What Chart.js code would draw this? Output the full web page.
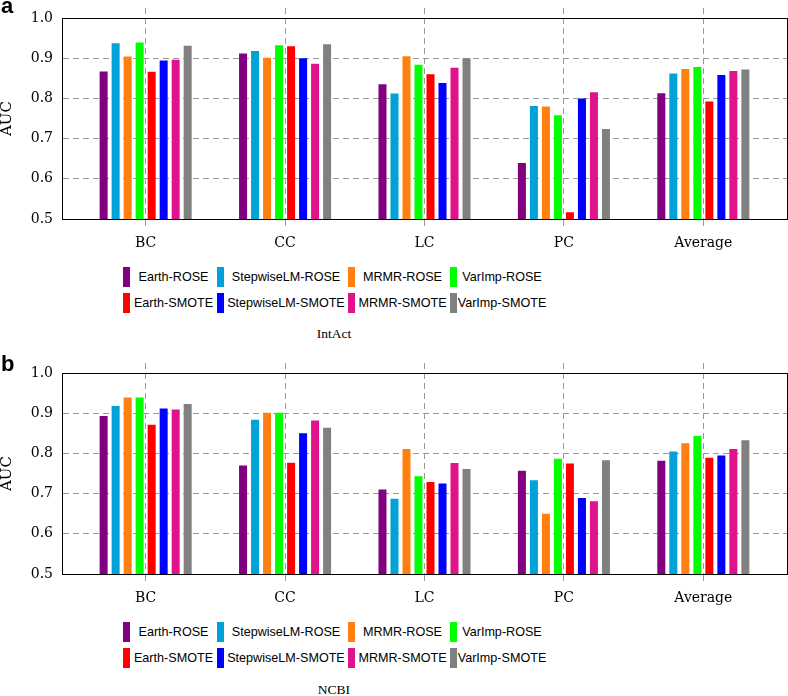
<!DOCTYPE html>
<html>
<head>
<meta charset="utf-8">
<script src="https://cdn.jsdelivr.net/npm/chart.js@4.4.1/dist/chart.umd.min.js"></script>
<style>
  body { margin: 0; background: #fff; }
  #wrap { position: relative; width: 788px; height: 696px; overflow: hidden; }
  canvas.panel { position: absolute; left: 0; }
  .tag { position: absolute; left: 1px; font: bold 22px/22px 'Liberation Sans', Arial, sans-serif; color: #000; }
  .legend { position: absolute; left: 123px; font: 12.6px 'Liberation Sans', Arial, sans-serif; color: #000; }
  .legend .row { display: flex; height: 26px; align-items: center; }
  .legend .cell { display: flex; align-items: center; }
  .legend .box { width: 7px; height: 20px; flex: none; }
  .legend .txt { flex: 1; text-align: center; white-space: nowrap; }
  .caption { position: absolute; left: 234px; width: 200px; text-align: center; font: 13.5px/16px 'Liberation Serif', 'Times New Roman', serif; color: #000; }
</style>
</head>
<body>
<div id="wrap">
  <canvas id="chartA" class="panel" width="788" height="254" style="top:0px"></canvas>
  <div class="tag" style="top:-5px">a</div>
  <div id="legendA" class="legend" style="top:264px"></div>
  <div class="caption" style="top:326px">IntAct</div>

  <canvas id="chartB" class="panel" width="788" height="254" style="top:355px"></canvas>
  <div class="tag" style="top:353px">b</div>
  <div id="legendB" class="legend" style="top:619px"></div>
  <div class="caption" style="top:682px">NCBI</div>
</div>
<script>
const categories = ['BC', 'CC', 'LC', 'PC', 'Average'];
const methods = ['Earth-ROSE', 'StepwiseLM-ROSE', 'MRMR-ROSE', 'VarImp-ROSE',
                 'Earth-SMOTE', 'StepwiseLM-SMOTE', 'MRMR-SMOTE', 'VarImp-SMOTE'];
const colors = ['#800080', '#00a2d8', '#ff8010', '#00ff00', '#ff0000', '#0000ff', '#e0128c', '#808080'];
const yTicks = [0.5, 0.6, 0.7, 0.8, 0.9, 1.0];

// IntAct (panel a), one array per method, values for BC, CC, LC, PC, Average
const intactEarthROSE      = [0.867, 0.912, 0.835, 0.639, 0.813];
const intactStepwiseROSE   = [0.937, 0.918, 0.812, 0.781, 0.862];
const intactMRMRROSE       = [0.904, 0.901, 0.905, 0.780, 0.873];
const intactVarImpROSE     = [0.939, 0.932, 0.884, 0.758, 0.878];
const intactEarthSMOTE     = [0.866, 0.930, 0.860, 0.517, 0.792];
const intactStepwiseSMOTE  = [0.894, 0.900, 0.838, 0.800, 0.858];
const intactMRMRSMOTE      = [0.896, 0.886, 0.876, 0.815, 0.868];
const intactVarImpSMOTE    = [0.931, 0.935, 0.900, 0.724, 0.872];

// NCBI (panel b)
const ncbiEarthROSE        = [0.893, 0.770, 0.710, 0.757, 0.782];
const ncbiStepwiseROSE     = [0.918, 0.884, 0.687, 0.733, 0.805];
const ncbiMRMRROSE         = [0.939, 0.901, 0.811, 0.650, 0.825];
const ncbiVarImpROSE       = [0.939, 0.901, 0.743, 0.787, 0.843];
const ncbiEarthSMOTE       = [0.871, 0.777, 0.729, 0.775, 0.789];
const ncbiStepwiseSMOTE    = [0.912, 0.850, 0.725, 0.689, 0.795];
const ncbiMRMRSMOTE        = [0.909, 0.882, 0.776, 0.681, 0.811];
const ncbiVarImpSMOTE      = [0.923, 0.864, 0.761, 0.783, 0.833];

const intactSeries = [intactEarthROSE, intactStepwiseROSE, intactMRMRROSE, intactVarImpROSE,
                      intactEarthSMOTE, intactStepwiseSMOTE, intactMRMRSMOTE, intactVarImpSMOTE];
const ncbiSeries = [ncbiEarthROSE, ncbiStepwiseROSE, ncbiMRMRROSE, ncbiVarImpROSE,
                    ncbiEarthSMOTE, ncbiStepwiseSMOTE, ncbiMRMRSMOTE, ncbiVarImpSMOTE];

const gridGray = '#9a9a9a';
const dash = [6, 4];
const tickFont = { family: "'DejaVu Serif', serif", size: 14 };

// categories sit on a linear axis so the outer margins match the original
function catTicks(scale) {
  scale.ticks = categories.map((c, i) => ({ value: i }));
}

function makeDatasets(series) {
  return series.map((vals, k) => ({
    label: methods[k],
    data: vals.map((v, i) => ({ x: i, y: v })),
    backgroundColor: colors[k],
    borderWidth: 0,
    categoryPercentage: 0.689,
    barPercentage: 0.667
  }));
}

function makeChart(id, series) {
  return new Chart(document.getElementById(id), {
    type: 'bar',
    data: { datasets: makeDatasets(series) },
    options: {
      responsive: false,
      animation: false,
      layout: { padding: { top: 8, right: 1, left: 0, bottom: 0 } },
      plugins: { legend: { display: false }, tooltip: { enabled: false } },
      scales: {
        x: {
          type: 'linear', position: 'bottom', min: -0.6, max: 4.6, offset: false,
          afterBuildTicks: catTicks,
          afterFit: s => { s.height = 35; },
          grid: { offset: false, color: gridGray, lineWidth: 1, tickLength: 11, tickColor: gridGray, tickBorderDash: dash },
          border: { display: true, color: '#000', width: 1, dash: dash },
          ticks: {
            autoSkip: false, maxRotation: 0, padding: 5, color: '#000', font: tickFont,
            callback: v => categories[v]
          }
        },
        x2: {
          type: 'linear', position: 'top', min: -0.6, max: 4.6, offset: false,
          afterBuildTicks: catTicks,
          afterFit: s => { s.height = 10; },
          grid: { offset: false, drawOnChartArea: false, tickLength: 10, tickColor: gridGray, tickBorderDash: dash },
          border: { display: true, color: '#000', width: 1 },
          ticks: { display: false }
        },
        y: {
          min: 0.5, max: 1.0,
          afterBuildTicks: s => { s.ticks = yTicks.map(v => ({ value: v })); },
          afterFit: s => { s.width = 62; },
          grid: {
            drawTicks: false, lineWidth: 1,
            color: c => (c.tick && c.tick.value > 0.55 && c.tick.value < 0.95) ? gridGray : 'rgba(0,0,0,0)'
          },
          border: { display: true, color: '#000', width: 1, dash: dash },
          ticks: { padding: 9, color: '#000', font: tickFont, callback: v => v.toFixed(1) },
          title: {
            display: true, text: 'AUC', color: '#000',
            font: { family: "'DejaVu Serif', serif", size: 15, lineHeight: 1 },
            padding: { top: 0, bottom: 0 }
          }
        },
        y2: {
          position: 'right', min: 0, max: 1,
          afterFit: s => { s.width = 0; },
          grid: { drawOnChartArea: false, drawTicks: false },
          border: { display: true, color: '#000', width: 1 },
          ticks: { display: false }
        }
      }
    }
  });
}

// legend laid out in two rows of four, built from the chart's own datasets
const colWidths = [94, 131, 102, 97];
function buildLegend(chart, elId) {
  const el = document.getElementById(elId);
  const ds = chart.data.datasets;
  [0, 4].forEach(start => {
    const row = document.createElement('div');
    row.className = 'row';
    ds.slice(start, start + 4).forEach((d, k) => {
      const cell = document.createElement('div');
      cell.className = 'cell';
      cell.style.width = colWidths[k] + 'px';
      const box = document.createElement('span');
      box.className = 'box';
      box.style.background = d.backgroundColor;
      const txt = document.createElement('span');
      txt.className = 'txt';
      txt.textContent = d.label;
      cell.appendChild(box);
      cell.appendChild(txt);
      row.appendChild(cell);
    });
    el.appendChild(row);
  });
}

const chartA = makeChart('chartA', intactSeries);
const chartB = makeChart('chartB', ncbiSeries);
buildLegend(chartA, 'legendA');
buildLegend(chartB, 'legendB');
</script>
</body>
</html>
